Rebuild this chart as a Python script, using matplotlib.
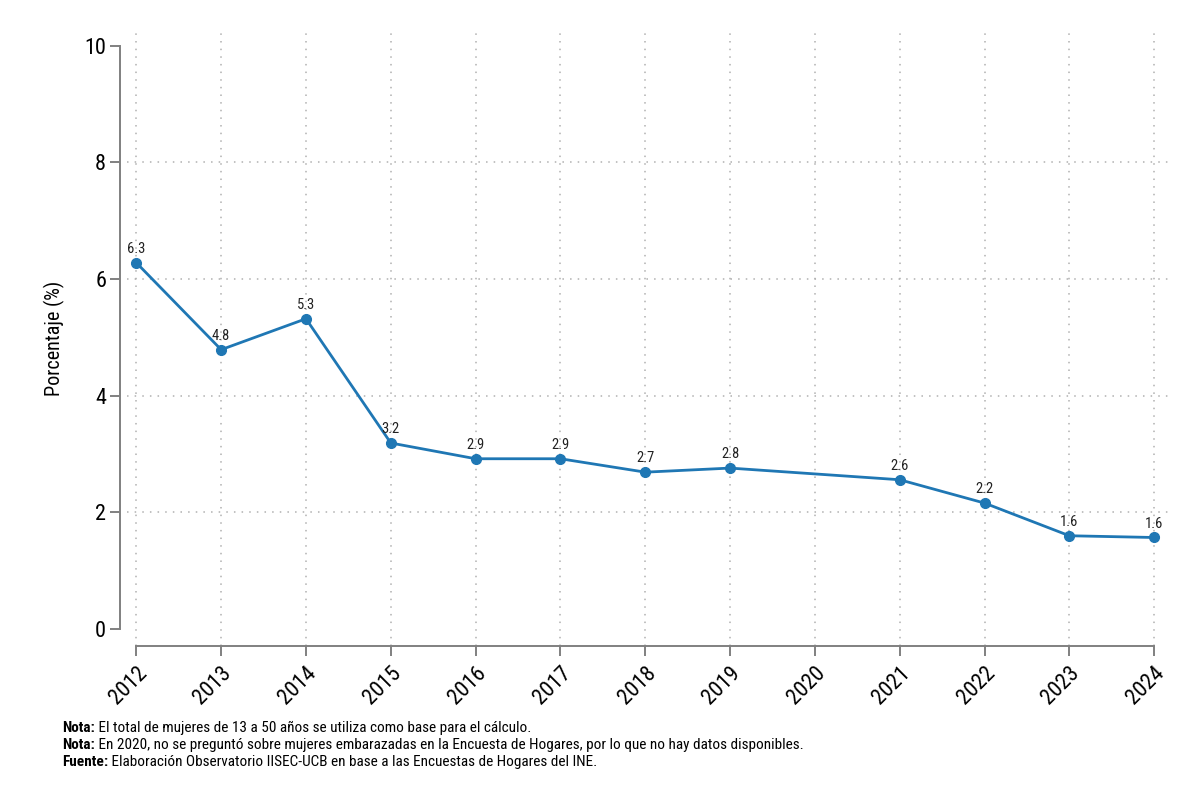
import matplotlib.pyplot as plt
from matplotlib import font_manager

names = {f.name for f in font_manager.fontManager.ttflist}
fam = "Liberation Sans"
for c in ["Liberation Sans Narrow", "Arial Narrow", "Roboto Condensed", "Open Sans Condensed"]:
    if c in names:
        fam = c
        break
plt.rcParams["font.family"] = [fam, "DejaVu Sans"]

anios = [2012, 2013, 2014, 2015, 2016, 2017, 2018, 2019, 2021, 2022, 2023, 2024]
porcentaje = [6.28, 4.79, 5.32, 3.19, 2.92, 2.92, 2.69, 2.76, 2.56, 2.16, 1.60, 1.57]
etiquetas = ["6.3", "4.8", "5.3", "3.2", "2.9", "2.9", "2.7", "2.8", "2.6", "2.2", "1.6", "1.6"]
xticks = list(range(2012, 2025))
yticks = [0, 2, 4, 6, 8, 10]
ygrid = [2, 4, 6, 8]

notas = [
    ("Nota:", " El total de mujeres de 13 a 50 años se utiliza como base para el cálculo."),
    ("Nota:", " En 2020, no se preguntó sobre mujeres embarazadas en la Encuesta de Hogares, por lo que no hay datos disponibles."),
    ("Fuente:", " Elaboración Observatorio IISEC-UCB en base a las Encuestas de Hogares del INE."),
]

gris = "#808080"
azul = "#1f77b4"
fs_tick = 16 if fam != "Liberation Sans" else 15
fs_nota = 11 if fam != "Liberation Sans" else 10

fig = plt.figure(figsize=(12, 8.01), dpi=100)
ax = fig.add_axes([127 / 1200, 1 - 646 / 801, (1172 - 127) / 1200, (646 - 30) / 801])

ax.plot(anios, porcentaje, color=azul, linewidth=2.0, marker="o", markersize=7, zorder=3)
for x, y, t in zip(anios, porcentaje, etiquetas):
    ax.annotate(t, (x, y), xytext=(0, 5), textcoords="offset points",
                ha="center", va="bottom", fontsize=10.5, color="#222222")

# rejilla punteada
for v in xticks:
    ax.axvline(v, linestyle=(0, (1, 4)), color="#b0b0b0", linewidth=1.1, zorder=0)
for v in ygrid:
    ax.axhline(v, linestyle=(0, (1, 4)), color="#b0b0b0", linewidth=1.1, zorder=0)

ax.set_xlim(2011.89, 2024.21)
ax.set_ylim(-0.29, 10.27)
ax.set_xticks(xticks)
ax.set_xticklabels([str(v) for v in xticks], rotation=45, ha="right",
                   rotation_mode="anchor")
ax.set_yticks(yticks)
ax.set_yticklabels([str(v) for v in yticks])
ax.set_ylabel("Porcentaje (%)", fontsize=14.5, labelpad=14)

for s in ["top", "right"]:
    ax.spines[s].set_visible(False)
ax.spines["left"].set_position(("outward", 5))
ax.spines["left"].set_bounds(0, 10)
ax.spines["bottom"].set_bounds(2012, 2024)
for s in ["left", "bottom"]:
    ax.spines[s].set_color(gris)
    ax.spines[s].set_linewidth(1.4)
ax.tick_params(axis="both", color=gris, width=1.4, length=7, labelsize=fs_tick)
ax.tick_params(axis="x", pad=5)
ax.tick_params(axis="y", pad=3)

y0 = 1 - 735 / 801
for i, (b, t) in enumerate(notas):
    yy = y0 - i * 17 / 801
    tb = fig.text(62 / 1200, yy, b, fontsize=fs_nota, fontweight="bold", va="bottom")
    ax.annotate(t, xy=(1, 0), xycoords=tb, va="bottom", ha="left", fontsize=fs_nota)

fig.savefig("out.png", dpi=100)
